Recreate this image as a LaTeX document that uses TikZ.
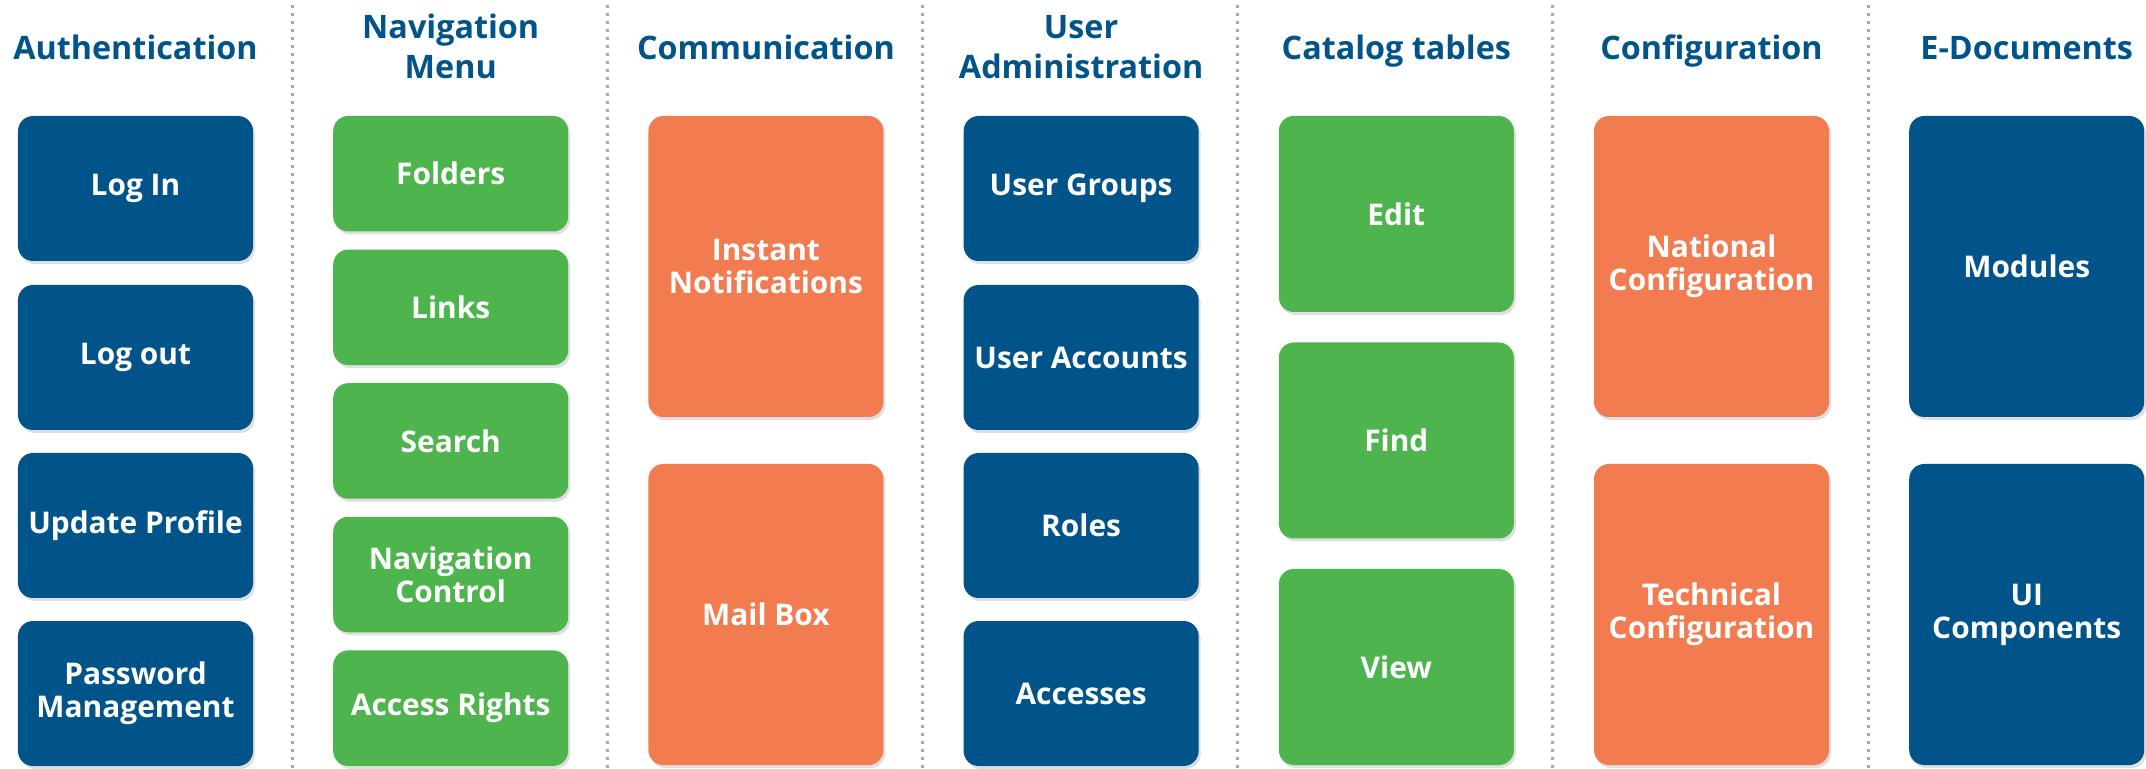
\documentclass[tikz,border=0pt]{standalone}
\usepackage{fontspec}
\setmainfont{Open Sans}
\usepackage{tikz}
\usetikzlibrary{shadows}
\definecolor{navy}{RGB}{0,84,138}
\definecolor{leaf}{RGB}{78,181,78}
\definecolor{coral}{RGB}{242,123,80}
\definecolor{sepgray}{RGB}{166,166,166}
\tikzstyle{head} = [text=navy, font=\fontsize{9.2}{11.4}\selectfont\bfseries, align=center, anchor=base]
\tikzstyle{mybox} = [rectangle, rounded corners=0.15cm, minimum width=2.35cm, inner sep=2pt,
    text=white, align=center, font=\fontsize{8.5}{9.4}\selectfont\bfseries,
    drop shadow={opacity=0.25, shadow xshift=0.02cm, shadow yshift=-0.03cm}]
\tikzstyle{bluebox} = [mybox, fill=navy]
\tikzstyle{greenbox} = [mybox, fill=leaf]
\tikzstyle{orangebox} = [mybox, fill=coral]
\tikzstyle{sep} = [sepgray, line width=0.03cm, dash pattern=on 0.03cm off 0.05cm]

\begin{document}
\begin{tikzpicture}
\useasboundingbox (0,0) rectangle (21.46,7.68);
% column separators
\draw [sep] (2.92,7.63) -- (2.92,0);
\draw [sep] (6.072,7.63) -- (6.072,0);
\draw [sep] (9.224,7.63) -- (9.224,0);
\draw [sep] (12.376,7.63) -- (12.376,0);
\draw [sep] (15.528,7.63) -- (15.528,0);
\draw [sep] (18.68,7.63) -- (18.68,0);
% headers
\node [head] (auth) at (1.355,7.08) {Authentication};
\node [head] (navmenu) at (4.507,6.89) {Navigation\\Menu};
\node [head] (comm) at (7.659,7.08) {Communication};
\node [head] (useradm) at (10.811,6.89) {User\\Administration};
\node [head] (catalog) at (13.963,7.08) {Catalog tables};
\node [head] (config) at (17.115,7.08) {Configuration};
\node [head] (edocs) at (20.267,7.08) {E-Documents};
% Authentication
\node [bluebox, minimum height=1.45cm] (login) at (1.355,5.795) {Log In};
\node [bluebox, minimum height=1.45cm] (logout) at (1.355,4.105) {Log out};
\node [bluebox, minimum height=1.45cm] (profile) at (1.355,2.425) {Update Profile};
\node [bluebox, minimum height=1.45cm] (password) at (1.355,0.745) {Password\\Management};
% Navigation Menu
\node [greenbox, minimum height=1.155cm] (folders) at (4.507,5.9425) {Folders};
\node [greenbox, minimum height=1.155cm] (links) at (4.507,4.6065) {Links};
\node [greenbox, minimum height=1.155cm] (search) at (4.507,3.2705) {Search};
\node [greenbox, minimum height=1.155cm] (navctrl) at (4.507,1.9345) {Navigation\\Control};
\node [greenbox, minimum height=1.155cm] (rights) at (4.507,0.5985) {Access Rights};
% Communication
\node [orangebox, minimum height=3.01cm] (notif) at (7.659,5.015) {Instant\\Notifications};
\node [orangebox, minimum height=3.01cm] (mailbox) at (7.659,1.535) {Mail Box};
% User Administration
\node [bluebox, minimum height=1.45cm] (groups) at (10.811,5.795) {User Groups};
\node [bluebox, minimum height=1.45cm] (accounts) at (10.811,4.105) {User Accounts};
\node [bluebox, minimum height=1.45cm] (roles) at (10.811,2.425) {Roles};
\node [bluebox, minimum height=1.45cm] (accesses) at (10.811,0.745) {Accesses};
% Catalog tables
\node [greenbox, minimum height=1.96cm] (edit) at (13.963,5.54) {Edit};
\node [greenbox, minimum height=1.96cm] (find) at (13.963,3.275) {Find};
\node [greenbox, minimum height=1.96cm] (view) at (13.963,1.01) {View};
% Configuration
\node [orangebox, minimum height=3.01cm] (national) at (17.115,5.015) {National\\Configuration};
\node [orangebox, minimum height=3.01cm] (technical) at (17.115,1.535) {Technical\\Configuration};
% E-Documents
\node [bluebox, minimum height=3.01cm] (modules) at (20.267,5.015) {Modules};
\node [bluebox, minimum height=3.01cm] (uicomp) at (20.267,1.535) {UI\\Components};
\end{tikzpicture}
\end{document}
